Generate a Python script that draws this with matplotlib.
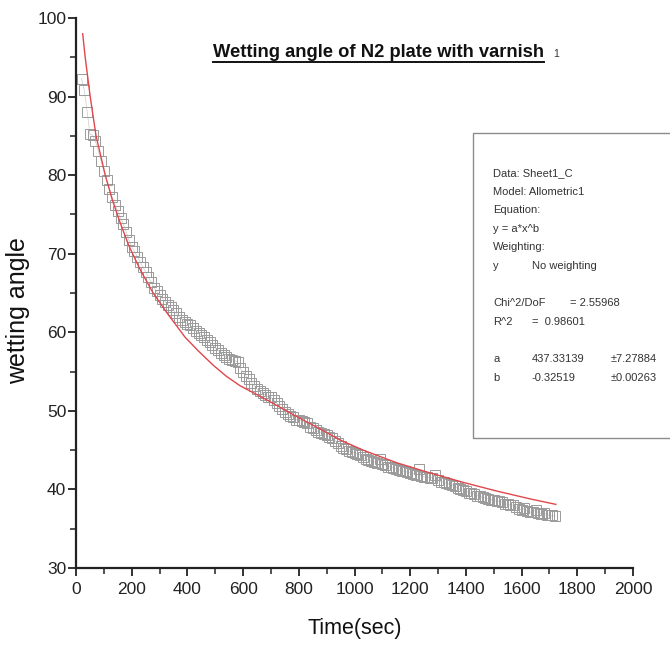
import numpy as np
import matplotlib
matplotlib.use('Agg')
import matplotlib.pyplot as plt
from matplotlib.lines import Line2D
from matplotlib.patches import Rectangle
from matplotlib.ticker import MultipleLocator

# measured wetting angle, one reading every 10 s from 20 s to 1720 s
time_sec = np.arange(20, 1730, 10)
angle = [
    92.3, 90.8, 88.1, 85.2, 85.1, 84.3, 83.1, 81.8, 80.5, 79.4,
    78.3, 77.2, 76.2, 75.4, 74.6, 73.8, 72.8, 71.7, 70.9, 70.3,
    69.6, 69.0, 68.3, 67.7, 67.0, 66.4, 65.7, 65.2, 64.8, 64.3,
    63.9, 63.5, 63.2, 62.8, 62.4, 62.0, 61.6, 61.3, 61.1, 60.9,
    60.5, 60.2, 59.9, 59.6, 59.4, 59.0, 58.8, 58.4, 58.0, 57.7,
    57.4, 57.1, 56.8, 56.6, 56.5, 56.4, 56.2, 55.4, 54.9, 54.5,
    54.0, 53.6, 53.2, 52.8, 52.5, 52.3, 52.0, 51.8, 51.7, 51.4,
    51.0, 50.6, 50.2, 49.8, 49.6, 49.4, 49.2, 48.9, 48.8, 48.7,
    48.6, 48.4, 48.0, 47.8, 47.6, 47.3, 47.2, 47.0, 46.9, 46.7,
    46.5, 46.2, 45.9, 45.5, 45.3, 45.1, 44.9, 44.8, 44.6, 44.5,
    44.4, 44.1, 43.9, 43.7, 43.6, 43.5, 43.4, 43.9, 43.3, 43.1,
    42.9, 42.9, 42.7, 42.6, 42.5, 42.4, 42.3, 42.2, 42.1, 42.0,
    41.9, 42.6, 41.7, 41.6, 41.6, 41.5, 41.5, 41.8, 41.2, 41.0,
    40.9, 40.8, 40.7, 40.6, 40.4, 40.2, 40.0, 39.9, 39.8, 39.6,
    39.5, 39.4, 39.2, 39.1, 39.0, 38.9, 38.8, 38.7, 38.6, 38.5,
    38.5, 38.4, 38.2, 38.1, 38.0, 38.0, 37.7, 37.5, 37.4, 37.6,
    37.2, 37.1, 37.1, 37.4, 37.0, 36.9, 37.0, 36.8, 36.7, 36.7,
    36.6,
]

# fitted curve (Allometric1)
fit_x = [24, 33, 51, 72, 105, 130, 158, 190, 230, 277, 326, 391, 440, 493,
         540, 589, 685, 781, 876, 948, 1031, 1151, 1271, 1390, 1510, 1630, 1723]
fit_y = [98.0, 95.0, 90.0, 85.0, 80.0, 76.9, 74.0, 71.0, 68.0, 65.0, 62.5,
         59.4, 57.6, 55.8, 54.4, 53.2, 51.4, 49.5, 47.7, 46.3, 45.0, 43.4,
         42.1, 40.9, 39.8, 38.8, 38.1]

title = 'Wetting angle of N2 plate with varnish'
box_lines = [
    ('Data: Sheet1_C', '', ''),
    ('Model: Allometric1', '', ''),
    ('Equation:', '', ''),
    ('y = a*x^b', '', ''),
    ('Weighting:', '', ''),
    ('y', 'No weighting', ''),
    ('', '', ''),
    ('Chi^2/DoF', '', '= 2.55968'),
    ('R^2', '=  0.98601', ''),
    ('', '', ''),
    ('a', '437.33139', '\u00b17.27884'),
    ('b', '-0.32519', '\u00b10.00263'),
]

plt.rcParams['font.family'] = ['Liberation Sans', 'DejaVu Sans']

W, H = 670, 645
fig = plt.figure(figsize=(6.7, 6.45), dpi=100)
ax = fig.add_axes([76 / W, 1 - 568 / H, (633 - 76) / W, (568 - 18) / H])

ax.plot(time_sec, angle, color='#cccccc', lw=0.5, zorder=1)
ax.plot(time_sec, angle, ls='none', marker='s', ms=7.5, mfc='none',
        mec='#9a9a9a', mew=0.7, zorder=2)
ax.plot(fit_x, fit_y, color='#e0474c', lw=1.0, zorder=3)

ax.set_xlim(0, 2000)
ax.set_ylim(30, 100)
ax.xaxis.set_major_locator(MultipleLocator(200))
ax.xaxis.set_minor_locator(MultipleLocator(100))
ax.yaxis.set_major_locator(MultipleLocator(10))
ax.yaxis.set_minor_locator(MultipleLocator(5))
for s in ['top', 'right']:
    ax.spines[s].set_visible(False)
for s in ['left', 'bottom']:
    ax.spines[s].set_linewidth(1.6)
    ax.spines[s].set_color('#222222')
ax.tick_params(which='major', direction='out', length=6, width=1.3,
               colors='#222222', labelsize=12.5)
ax.tick_params(which='minor', direction='out', length=4, width=1.1,
               colors='#222222')
ax.tick_params(axis='y', pad=1)
ax.tick_params(axis='x', pad=4)

ax.set_xlabel('Time(sec)', fontsize=15.5, color='#111111', labelpad=15)
fig.text(18 / W, 1 - 311 / H, 'wetting angle', rotation=90, ha='center',
         va='center', fontsize=18, color='#111111')

# title with underline and trailing small "1"
t = fig.text(378 / W, 1 - 57 / H, title, ha='center', va='baseline',
             fontsize=13.2, fontweight='bold', color='#111111')
fig.canvas.draw()
bb = t.get_window_extent()
fig.add_artist(Line2D([bb.x0 / W, bb.x1 / W], [1 - 62 / H, 1 - 62 / H],
                      transform=fig.transFigure, color='#111111', lw=1.4))
fig.text(bb.x1 / W + 10 / W, 1 - 57 / H, '1', ha='left', va='baseline',
         fontsize=7.5, color='#333333')

# fit results box
fig.add_artist(Rectangle((473 / W, 1 - 438 / H), 260 / W, (438 - 133) / H,
                         transform=fig.transFigure, fill=False,
                         ec='#8c8c8c', lw=1.0))
col_x = [493, 532, 570]
y0 = 173
for i, row in enumerate(box_lines):
    yy = 1 - (y0 + i * 18.6) / H
    for j, txt in enumerate(row):
        if not txt:
            continue
        xx = col_x[j]
        if j == 2 and txt.startswith('\u00b1'):
            xx = 611
        fig.text(xx / W, yy, txt, ha='left', va='center', fontsize=8.0,
                 color='#333333')

fig.savefig('out.png', dpi=100)
